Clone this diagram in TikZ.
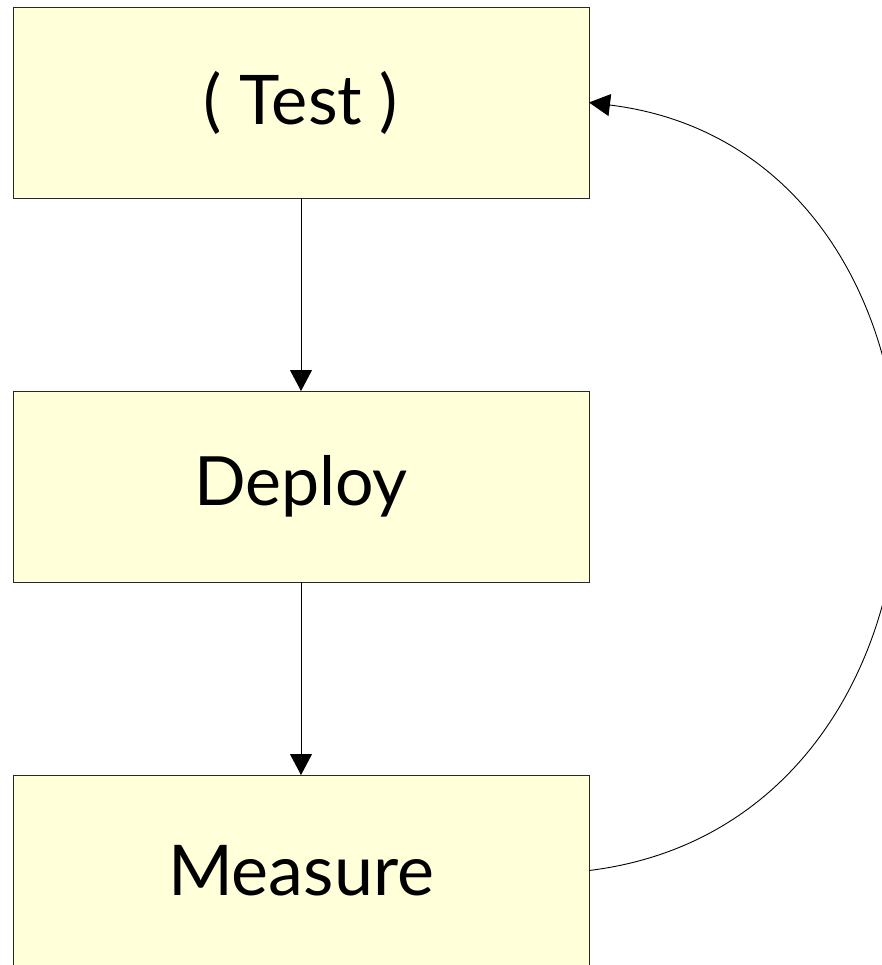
\documentclass[tikz,border=0pt]{standalone}
\usepackage{fontspec}
\setmainfont{Lato}
\usetikzlibrary{arrows.meta}
\definecolor{boxfill}{RGB}{255,255,218}
\definecolor{boxline}{RGB}{40,40,40}
\begin{document}
\begin{tikzpicture}[x=1pt,y=-1pt,
  stagebox/.style={draw=boxline,line width=0.9pt,fill=boxfill,
    minimum width=576pt,minimum height=191pt,inner sep=0pt,outer sep=0pt},
  label size/.style={font=\fontsize{#1}{#1}\selectfont},
  flow/.style={line width=0.9pt,-{Triangle[length=21pt,width=22pt]}}]
  \useasboundingbox (0,0) rectangle (881,965);
  \node[stagebox,label size=68.5] (test)    at (301,102.5) {( Test )};
  \node[stagebox,label size=68]   (deploy)  at (301,486.5) {Deploy};
  \node[stagebox,label size=70]   (measure) at (301,870.5) {Measure};
  \draw[flow] (test) -- (deploy);
  \draw[flow] (deploy) -- (measure);
  \draw[flow] (measure.east) .. controls +(410pt,50pt) and +(410pt,-50pt) .. (test.east);
\end{tikzpicture}
\end{document}
